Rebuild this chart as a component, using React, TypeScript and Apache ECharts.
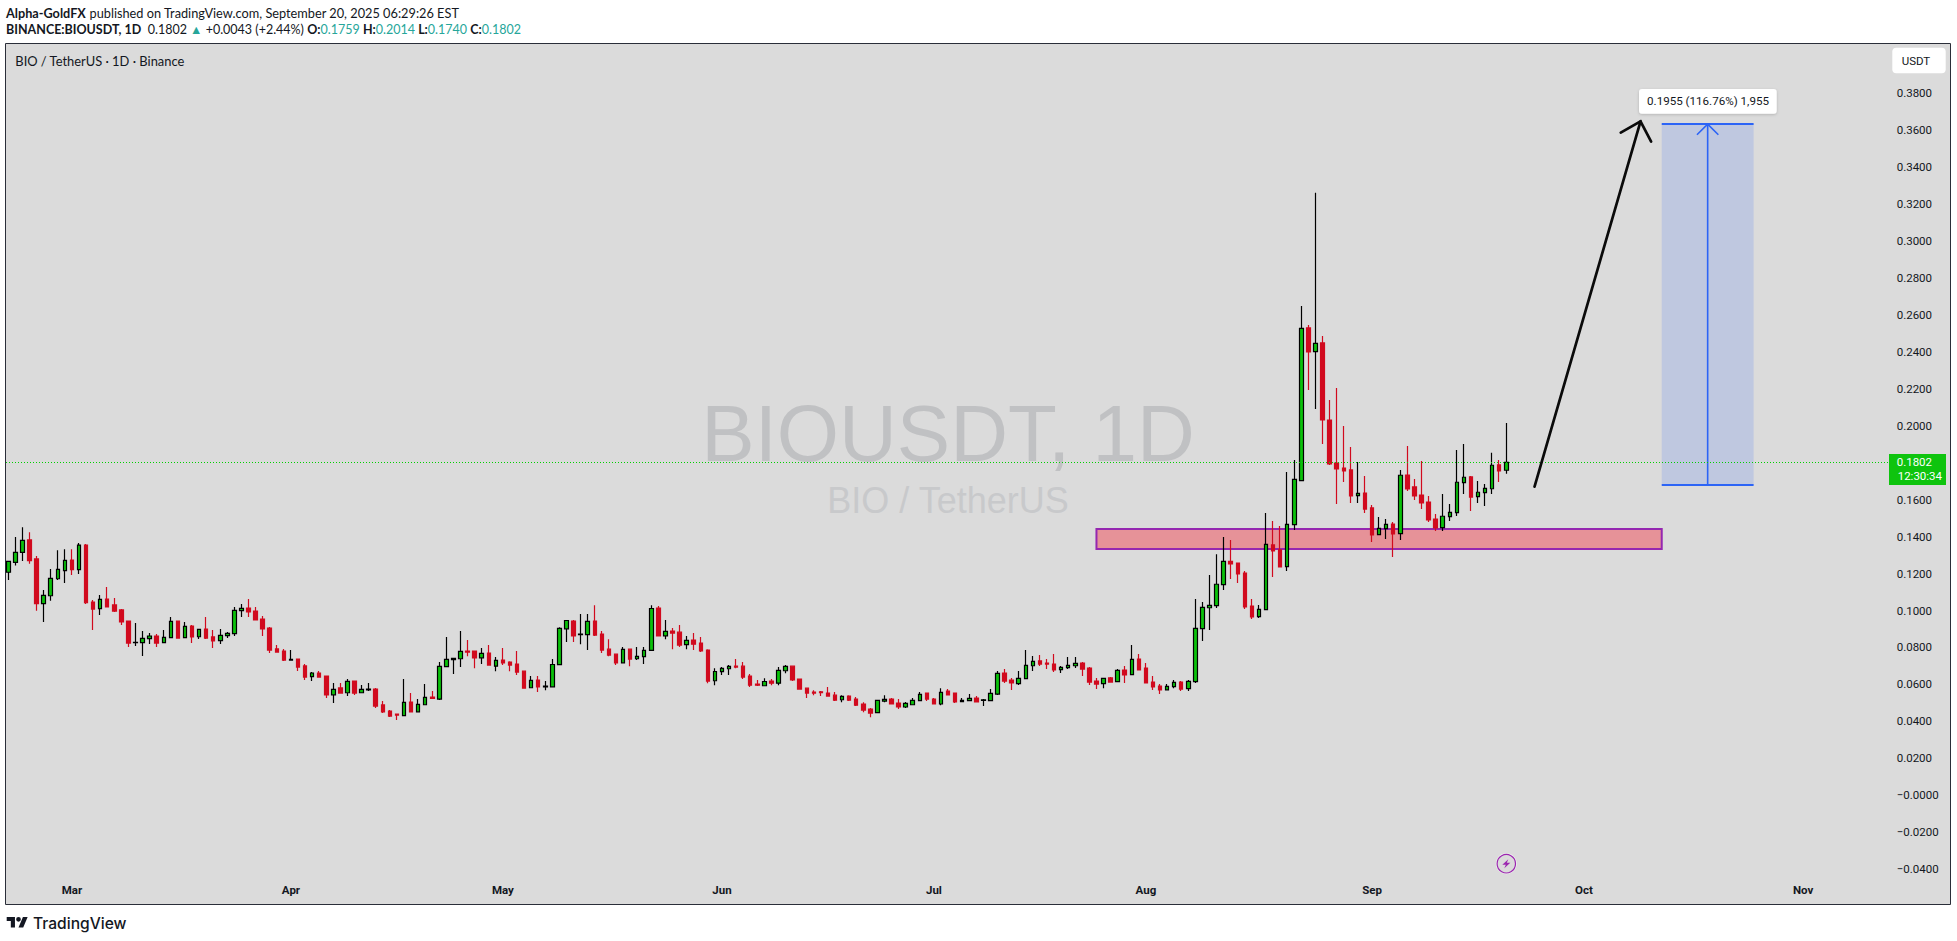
import React, { useEffect, useRef } from "react";
import * as echarts from "echarts";

const candleOpen = [
  .1207,.1261,.1315,.1382,.1279,.1037,.1080,.1172,.1216,.1273,
  .1221,.1354,.1046,.1010,.1062,.1030,.1003,.0943,.0826,.0826,
  .0848,.0862,.0826,.0853,.0943,.0853,.0916,.0858,.0900,.0857,
  .0837,.0864,.0875,.0999,.1013,.0997,.0954,.0905,.0792,.0781,
  .0732,.0737,.0700,.0642,.0662,.0645,.0544,.0581,.0555,.0618,
  .0555,.0570,.0575,.0489,.0456,.0440,.0431,.0505,.0452,.0490,
  .0532,.0521,.0696,
  .0734,.0739,.0781,.0781,.0744,.0770,.0699,.0732,.0721,.0710,
  .0672,.0582,.0624,.0587,.0587,.0707,.0901,.0943,.0869,.0869,
  .0943,.0873,.0791,.0764,.0717,.0791,.0739,.0750,.0784,.1013,
  .0863,.0889,.0883,.0815,.0840,.0824,.0786,.0620,.0669,.0685,
  .0699,.0699,.0645,.0602,.0593,.0618,.0607,.0674,.0699,.0629,
  .0580,.0559,.0560,.0553,.0542,.0517,.0537,.0521,.0494,.0467,
  .0447,.0510,.0521,.0499,.0478,.0490,.0512,.0553,.0521,.0494,
  .0564,.0553,.0507,.0512,.0526,.0514,.0512,.0548,.0662,.0624,
  .0604,.0631,.0701,.0727,.0716,.0710,.0680,.0691,.0701,.0716,
  .0689,.0618,.0604,.0635,.0615,.0678,.0653,.0737,.0689,.0613,
  .0591,.0571,.0588,.0613,.0577,.0615,.0902,.1015,.1026,.1140,
  .1266,.1257,.1203,.1024,.0967,.1005,.1355,.1328,.1237,.1465,
  .1703,.2529,.2401,.2448,.2031,.1798,.1771,.1761,.1622,.1636,
  .1555,.1411,.1443,.1468,.1416,.1733,.1669,.1625,.1587,.1495,
  .1448,.1508,.1530,.1692,.1723,.1616,.1638,.1659,.1788,.1759,
];
const candleClose = [
  .1266,.1315,.1380,.1270,.1037,.1082,.1174,.1223,.1271,.1221,
  .1354,.1042,.1008,.1060,.1019,.0997,.0938,.0824,.0828,.0849,
  .0862,.0824,.0855,.0941,.0851,.0914,.0857,.0898,.0851,.0835,
  .0866,.0876,.1001,.1012,.0992,.0949,.0900,.0786,.0775,.0732,
  .0736,.0694,.0640,.0662,.0640,.0543,.0573,.0553,.0617,.0553,
  .0573,.0575,.0483,.0451,.0429,.0434,.0503,.0451,.0492,.0530,
  .0525,.0698,.0736,
  .0741,.0779,.0775,.0743,.0768,.0705,.0730,.0716,.0705,.0667,
  .0580,.0622,.0586,.0591,.0708,.0903,.0946,.0862,.0873,.0941,
  .0867,.0786,.0759,.0716,.0790,.0737,.0752,.0784,.1011,.0862,
  .0887,.0878,.0813,.0838,.0818,.0781,.0618,.0670,.0687,.0698,
  .0694,.0640,.0596,.0596,.0616,.0607,.0676,.0698,.0624,.0575,
  .0553,.0553,.0555,.0537,.0515,.0535,.0515,.0488,.0461,.0445,
  .0514,.0519,.0494,.0478,.0498,.0514,.0546,.0521,.0494,.0557,
  .0543,.0505,.0514,.0525,.0505,.0517,.0552,.0660,.0618,.0608,
  .0633,.0703,.0725,.0710,.0710,.0678,.0692,.0703,.0714,.0683,
  .0613,.0602,.0633,.0613,.0676,.0651,.0736,.0678,.0608,.0586,
  .0570,.0590,.0611,.0575,.0617,.0903,.1017,.1028,.1142,.1266,
  .1252,.1198,.1019,.0965,.1006,.1358,.1322,.1236,.1466,.1710,
  .2527,.2399,.2446,.2031,.1793,.1766,.1755,.1620,.1634,.1549,
  .1409,.1445,.1466,.1414,.1732,.1658,.1620,.1582,.1490,.1447,
  .1510,.1531,.1694,.1721,.1614,.1640,.1661,.1786,.1755,.1802,
];
const candleLow = [
  .1165,.1243,.1268,.1253,.0999,.0938,.1053,.1165,.1149,.1192,
  .1198,.1035,.0894,.0976,.1019,.0992,.0921,.0802,.0808,.0754,
  .0819,.0802,.0824,.0853,.0851,.0851,.0824,.0846,.0846,.0797,
  .0819,.0851,.0862,.0965,.0965,.0949,.0862,.0770,.0775,.0727,
  .0728,.0673,.0624,.0618,.0640,.0526,.0499,.0553,.0537,.0543,
  .0553,.0564,.0472,.0445,.0424,.0407,.0431,.0451,.0452,.0490,
  .0521,.0516,.0696,
  .0656,.0694,.0753,.0688,.0710,.0705,.0672,.0705,.0672,.0651,
  .0580,.0580,.0559,.0569,.0587,.0705,.0829,.0829,.0818,.0786,
  .0862,.0770,.0753,.0705,.0716,.0699,.0732,.0710,.0782,.0862,
  .0845,.0791,.0802,.0791,.0786,.0775,.0607,.0596,.0651,.0651,
  .0688,.0629,.0586,.0591,.0591,.0596,.0596,.0661,.0618,.0575,
  .0526,.0542,.0537,.0537,.0510,.0504,.0510,.0483,.0450,.0423,
  .0447,.0504,.0494,.0467,.0472,.0488,.0510,.0510,.0494,.0488,
  .0543,.0499,.0505,.0510,.0505,.0483,.0512,.0543,.0608,.0570,
  .0597,.0629,.0673,.0700,.0683,.0667,.0662,.0683,.0689,.0645,
  .0597,.0575,.0580,.0613,.0613,.0608,.0651,.0678,.0608,.0570,
  .0548,.0570,.0580,.0564,.0564,.0608,.0835,.0894,.1013,.1111,
  .1171,.1149,.1008,.0954,.0959,.1005,.1181,.1236,.1214,.1436,
  .1703,.2193,.2091,.1901,.1788,.1577,.1696,.1582,.1582,.1528,
  .1371,.1409,.1387,.1290,.1382,.1647,.1598,.1549,.1479,.1430,
  .1430,.1485,.1512,.1631,.1539,.1582,.1566,.1631,.1696,.1740,
];
const candleHigh = [
  .1266,.1398,.1450,.1423,.1295,.1111,.1225,.1326,.1331,.1331,
  .1365,.1360,.1057,.1084,.1127,.1068,.1008,.0943,.0932,.0889,
  .0878,.0873,.0894,.0965,.0943,.0938,.0921,.0898,.0965,.0894,
  .0900,.0884,.1019,.1035,.1062,.1019,.0970,.0911,.0813,.0792,
  .0786,.0737,.0710,.0667,.0673,.0645,.0608,.0608,.0629,.0618,
  .0597,.0608,.0581,.0510,.0461,.0440,.0629,.0553,.0521,.0602,
  .0564,.0721,.0857,
  .0741,.0889,.0840,.0781,.0797,.0813,.0748,.0797,.0726,.0781,
  .0672,.0645,.0645,.0618,.0737,.0909,.0946,.0948,.0981,.0981,
  .1029,.0889,.0845,.0764,.0802,.0791,.0802,.0802,.1029,.1024,
  .0948,.0905,.0921,.0862,.0878,.0856,.0791,.0688,.0694,.0705,
  .0737,.0721,.0656,.0624,.0634,.0629,.0694,.0705,.0699,.0629,
  .0580,.0569,.0564,.0586,.0559,.0542,.0542,.0532,.0504,.0472,
  .0514,.0542,.0526,.0521,.0505,.0526,.0559,.0553,.0526,.0580,
  .0575,.0553,.0526,.0548,.0537,.0521,.0575,.0673,.0683,.0635,
  .0673,.0786,.0754,.0759,.0737,.0765,.0700,.0748,.0748,.0721,
  .0694,.0635,.0633,.0640,.0683,.0700,.0813,.0765,.0716,.0645,
  .0602,.0602,.0624,.0618,.0624,.1062,.1046,.1192,.1304,.1398,
  .1382,.1257,.1214,.1062,.1030,.1528,.1485,.1457,.1750,.1815,
  .2648,.2545,.3260,.2486,.2139,.2204,.1999,.1885,.1804,.1728,
  .1571,.1506,.1495,.1479,.1761,.1890,.1712,.1809,.1620,.1522,
  .1631,.1576,.1869,.1901,.1728,.1701,.1685,.1853,.1815,.2014,
];

// Daily categories, from the first candle to past the end of the visible pane.
const firstDay = Date.UTC(2025, 1, 20);
const categoryCount = 276;
const categories: string[] = [];
for (let i = 0; i < categoryCount; i++) {
  categories.push(new Date(firstDay + i * 86400000).toISOString().slice(5, 10));
}
const monthTicks: Record<string, string> = {
  "03-01": "Mar", "04-01": "Apr", "05-01": "May", "06-01": "Jun", "07-01": "Jul",
  "07-31": "Aug", "09-01": "Sep", "10-01": "Oct", "11-01": "Nov",
};

// Drawn annotations, in [category index, price].
const zoneIndex = [154, 234];
const zonePrice = [0.1441, 0.1333];
const measureIndex = [234, 247];
const measurePrice = [0.3632, 0.1679];
const arrowShaft = [[216.0, 0.167], [231.0, 0.3647]];
const arrowHead = [[228.2, 0.3586], [231.0, 0.3647], [232.5, 0.3537]];
const lastPrice = 0.1802;
const lastPriceEndIndex = 266.2;

const PANEL = "#dbdbdb";
const TEXT = "#131722";
const UP = "#0bc10b";
const DOWN = "#d10a1e";
const TEAL = "#26a69a";
const FONT = "Lato, Roboto, sans-serif";
const AXFONT = "Roboto, sans-serif";

echarts.graphic.registerShape(
  "tvlogo",
  echarts.graphic.extendPath(
    "M14 22H7V11H0V4h14v18zM28 22h-8l7.5-18h8L28 22zM24 8a4 4 0 1 1-8 0 4 4 0 0 1 8 0z",
    {}
  )
);

function xAt(api: any, i: number) {
  const a = Math.floor(i);
  const c0 = api.coord([a, 0])[0];
  const c1 = api.coord([a + 1, 0])[0];
  return c0 + (c1 - c0) * (i - a);
}
function yAt(api: any, p: number) {
  return api.coord([0, p])[1];
}

export default function App() {
  const ref = useRef<HTMLDivElement>(null);
  useEffect(() => {
    const chart = echarts.init(ref.current!, undefined, { renderer: "svg" });

    const underlay = () => ({
      type: "group",
      children: [
        { type: "rect", shape: { x: 5.5, y: 43.5, width: 1945, height: 861 }, style: { fill: PANEL, stroke: "#2a2e39", lineWidth: 1 } },
        { type: "text", style: { text: "BIOUSDT, 1D", x: 948, y: 433, align: "center", verticalAlign: "middle", font: "80px 'Liberation Sans', Arial, sans-serif", fill: "#c0c1c3" } },
        { type: "text", style: { text: "BIO / TetherUS", x: 948, y: 500.5, align: "center", verticalAlign: "middle", font: "36px 'Liberation Sans', Arial, sans-serif", fill: "#c8c9cb" } },
      ],
    });

    const zone = (_: any, api: any) => {
      const l = xAt(api, zoneIndex[0]);
      const r = xAt(api, zoneIndex[1]);
      const t = yAt(api, zonePrice[0]);
      const b = yAt(api, zonePrice[1]);
      return {
        type: "rect",
        shape: { x: l, y: t, width: r - l, height: b - t },
        style: { fill: "#e69298", stroke: "#9527b0", lineWidth: 2 },
      };
    };

    const overlay = (_: any, api: any) => {
      const l = xAt(api, measureIndex[0]);
      const r = xAt(api, measureIndex[1]);
      const m = (l + r) / 2;
      const t = yAt(api, measurePrice[0]);
      const b = yAt(api, measurePrice[1]);
      const blue = { stroke: "#2c64f6", lineWidth: 1.6, fill: "none" };
      const blueEdge = { stroke: "#2c64f6", lineWidth: 2, fill: "none" };
      const py = Math.floor(yAt(api, lastPrice)) + 0.5;
      const pts = (list: number[][]) => list.map((q) => [xAt(api, q[0]), yAt(api, q[1])]);
      return {
        type: "group",
        children: [
          { type: "rect", shape: { x: l, y: t, width: r - l, height: b - t }, style: { fill: "#bfc8e0" } },
          { type: "line", shape: { x1: l, y1: t, x2: r, y2: t }, style: blueEdge },
          { type: "line", shape: { x1: l, y1: b, x2: r, y2: b }, style: blueEdge },
          { type: "line", shape: { x1: m, y1: t, x2: m, y2: b }, style: blue },
          { type: "polyline", shape: { points: [[m - 10.7, t + 10.7], [m, t], [m + 10.7, t + 10.7]] }, style: blue },
          { type: "line", shape: { x1: 6, y1: py, x2: xAt(api, lastPriceEndIndex), y2: py }, style: { stroke: "#00d000", lineWidth: 1, lineDash: [1, 2] } },
          { type: "polyline", shape: { points: pts(arrowShaft) }, style: { stroke: "#0a0a0a", lineWidth: 2.7, lineCap: "round", fill: "none" } },
          { type: "polyline", shape: { points: pts(arrowHead) }, style: { stroke: "#0a0a0a", lineWidth: 2.7, lineCap: "round", lineJoin: "miter", fill: "none" } },
        ],
      };
    };

    const txt = (text: string, x: number, y: number, font: string, fill = TEXT, align = "left") => ({
      type: "text",
      z: 20,
      style: { text, x, y, font, fill, align, verticalAlign: "middle" },
    });

    chart.setOption({
      animation: false,
      backgroundColor: "#ffffff",
      grid: { left: 4.77, top: 56.1, width: 1950.2, height: 850.1, containLabel: false },
      xAxis: {
        type: "category",
        data: categories,
        boundaryGap: true,
        z: 5,
        axisLine: { show: false },
        axisTick: { show: false },
        splitLine: { show: false },
        axisLabel: {
          inside: true,
          margin: 10,
          interval: (_: number, v: string) => v in monthTicks,
          formatter: (v: string) => monthTicks[v] || "",
          color: TEXT,
          fontFamily: AXFONT,
          fontSize: 11.5,
          fontWeight: "bold",
          hideOverlap: false,
        },
      },
      yAxis: {
        type: "value",
        position: "right",
        min: -0.06,
        max: 0.4,
        interval: 0.02,
        z: 5,
        axisLine: { show: false },
        axisTick: { show: false },
        splitLine: { show: false },
        axisLabel: {
          inside: true,
          margin: 58.3,
          align: "left",
          padding: [0, 0, 4, 0],
          color: TEXT,
          fontFamily: AXFONT,
          fontSize: 11.5,
          formatter: (v: number) => {
            if (v < -0.05 || v > 0.39) return "";
            return (v < 1e-9 ? "\u2212" : "") + Math.abs(v).toFixed(4);
          },
        },
      },
      series: [
        { type: "custom", z: -1, silent: true, data: [[0, 0]], renderItem: underlay },
        { type: "custom", z: 1, silent: true, data: [[0, 0]], renderItem: zone },
        { type: "custom", z: 3, silent: true, data: [[0, 0]], renderItem: overlay },
        {
          type: "candlestick",
          z: 2,
          silent: true,
          barWidth: 4,
          data: candleOpen.map((o, i) => [o, candleClose[i], candleLow[i], candleHigh[i]]),
          itemStyle: { color: UP, color0: DOWN, borderColor: "#000000", borderColor0: DOWN, borderWidth: 1.2 },
        },
      ],
      graphic: [
        txt("Alpha-GoldFX", 6, 12.7, `bold 12.7px ${FONT}`),
        txt("published on TradingView.com, September 20, 2025 06:29:26 EST", 89.5, 12.7, `12.75px ${FONT}`),
        {
          type: "text",
          z: 20,
          style: {
            x: 6,
            y: 29,
            verticalAlign: "middle",
            font: `12.5px ${FONT}`,
            fill: TEXT,
            text: "{b|BINANCE:BIOUSDT, 1D}  0.1802 {t|\u25B2} +0.0043 (+2.44%) {b|O:}{t|0.1759} {b|H:}{t|0.2014} {b|L:}{t|0.1740} {b|C:}{t|0.1802}",
            rich: {
              b: { font: `bold 12.5px ${FONT}`, fill: TEXT },
              t: { font: `12.5px ${FONT}`, fill: TEAL },
            },
          },
        },
        txt("BIO / TetherUS \u00B7 1D \u00B7 Binance", 15.3, 60.7, `12.9px ${FONT}`),
        { type: "rect", z: 20, shape: { x: 1892.3, y: 47.7, width: 53.4, height: 25.6, r: 4 }, style: { fill: "#ffffff" } },
        txt("USDT", 1901.7, 61, `11.5px ${AXFONT}`),
        { type: "rect", z: 20, shape: { x: 1639, y: 89, width: 137.7, height: 24.7, r: 3 }, style: { fill: "#ffffff", shadowBlur: 3, shadowColor: "rgba(0,0,0,0.18)", shadowOffsetY: 1 } },
        txt("0.1955 (116.76%) 1,955", 1708, 100.7, `11.6px ${AXFONT}`, TEXT, "center"),
        { type: "rect", z: 20, shape: { x: 1889, y: 454, width: 57, height: 31 }, style: { fill: "#0ec40e" } },
        txt("0.1802", 1896.7, 462, `11.5px ${AXFONT}`, "#ffffff"),
        txt("12:30:34", 1897.7, 476, `11.5px ${AXFONT}`, "#ffffff"),
        { type: "circle", z: 20, shape: { cx: 1506.3, cy: 863.7, r: 10.5 }, style: { fill: "#f2f2f2" } },
        { type: "circle", z: 20, shape: { cx: 1506.3, cy: 863.7, r: 9.2 }, style: { fill: PANEL, stroke: "#9c27b0", lineWidth: 1.2 } },
        {
          type: "polygon",
          z: 21,
          shape: { points: [[1508.3, 859.2], [1502.3, 864.7], [1505.8, 864.7], [1504.3, 868.2], [1510.3, 862.7], [1506.8, 862.7]] },
          style: { fill: "#9c27b0" },
        },
        { type: "tvlogo", z: 20, x: 6.7, y: 914.6, scaleX: 0.59, scaleY: 0.59, style: { fill: TEXT } },
        txt("TradingView", 33, 923, `500 15.6px Inter, Roboto, sans-serif`),
      ],
    });
    return () => chart.dispose();
  }, []);
  return <div ref={ref} style={{ position: "fixed", left: 0, top: 0, width: 1957, height: 941 }} />;
}
